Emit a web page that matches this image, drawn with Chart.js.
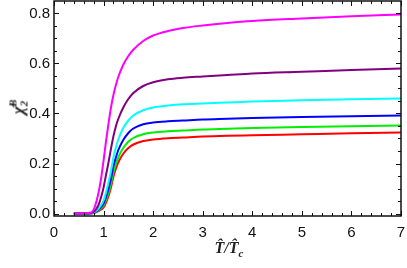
<!DOCTYPE html>
<html lang="en">
<head>
    <meta charset="UTF-8">
    <title>chi2B vs T/Tc</title>
    <script src="https://cdn.jsdelivr.net/npm/chart.js"></script>
    <style>
        body {
            margin: 0;
            background: #fff;
        }
        #wrap {
            position: relative;
            width: 407px;
            height: 268px;
        }
        .axisTitle {
            position: absolute;
            font-family: 'Liberation Serif', 'DejaVu Serif', serif;
            font-weight: bold;
            font-style: italic;
            font-size: 16px;
            color: #222;
            white-space: nowrap;
        }
        #xTitle {
            left: 229px;
            top: 249px;
            transform: translate(-50%, -50%);
        }
        #yTitle {
            left: 18px;
            top: 107px;
            font-size: 17px;
            transform: translate(-50%, -50%) rotate(-90deg);
        }
        sub, sup { font-size: 11px; }
    </style>
</head>
<body>

<div id="wrap">
    <canvas id="chi2Chart" width="407" height="268"></canvas>
    <div class="axisTitle" id="xTitle">T&#770;/T&#770;<sub>c</sub></div>
    <div class="axisTitle" id="yTitle">&chi;&#770;<sub>2</sub><sup style="margin-left:-6px">B</sup></div>
</div>

<script>
    // x values (T/Tc) shared by all curves
    const tRatio = [0.4, 0.6, 0.75, 0.82, 0.9, 0.95, 1.0, 1.05, 1.1, 1.15, 1.2, 1.25, 1.3, 1.4, 1.5, 1.6, 1.8, 2.0, 2.3, 2.6, 3, 3.5, 4, 5, 6, 7];

    // curves, top to bottom
    const magentaVals = [0, 0.001, 0.004, 0.025, 0.085, 0.14, 0.212, 0.29, 0.36, 0.425, 0.475, 0.515, 0.548, 0.596, 0.630, 0.655, 0.690, 0.712, 0.730, 0.742, 0.752, 0.762, 0.77, 0.78, 0.789, 0.796];
    const purpleVals  = [0, 0, 0.002, 0.01, 0.035, 0.065, 0.104, 0.155, 0.205, 0.26, 0.31, 0.35, 0.38, 0.425, 0.458, 0.482, 0.510, 0.525, 0.537, 0.543, 0.548, 0.554, 0.56, 0.567, 0.574, 0.58];
    const cyanVals    = [0, 0, 0.001, 0.006, 0.02, 0.034, 0.052, 0.085, 0.125, 0.17, 0.225, 0.265, 0.298, 0.343, 0.372, 0.392, 0.413, 0.424, 0.432, 0.437, 0.44, 0.444, 0.448, 0.453, 0.457, 0.46];
    const blueVals    = [0, 0, 0.001, 0.005, 0.016, 0.026, 0.04, 0.067, 0.1, 0.14, 0.19, 0.225, 0.255, 0.295, 0.322, 0.340, 0.357, 0.364, 0.369, 0.372, 0.376, 0.379, 0.382, 0.386, 0.389, 0.392];
    const greenVals   = [0, 0, 0.001, 0.004, 0.013, 0.021, 0.032, 0.054, 0.082, 0.12, 0.165, 0.198, 0.226, 0.263, 0.287, 0.302, 0.317, 0.324, 0.329, 0.332, 0.336, 0.339, 0.342, 0.346, 0.349, 0.352];
    const redVals     = [0, 0, 0, 0.003, 0.01, 0.016, 0.024, 0.044, 0.07, 0.105, 0.148, 0.18, 0.206, 0.24, 0.262, 0.276, 0.290, 0.296, 0.301, 0.304, 0.308, 0.311, 0.313, 0.317, 0.321, 0.324];

    const xTicks = [0, 1, 2, 3, 4, 5, 6, 7];
    const yTicks = [0.0, 0.2, 0.4, 0.6, 0.8];

    function toPoints(vals) {
        return vals.map((v, i) => ({ x: tRatio[i], y: v }));
    }

    function curve(label, vals, color) {
        return {
            label: label,
            data: toPoints(vals),
            borderColor: color,
            borderWidth: 2,
            pointRadius: 0,
            fill: false,
            cubicInterpolationMode: 'monotone'
        };
    }

    // frame box with inward ticks on all four sides (Mathematica look)
    const frameTicks = {
        id: 'frameTicks',
        afterDatasetsDraw(chart) {
            const { ctx, chartArea: a, scales: { x, y } } = chart;
            ctx.save();
            ctx.strokeStyle = '#111';
            ctx.lineWidth = 1;
            for (let i = 0; i <= 35; i++) {
                const px = Math.round(x.getPixelForValue(i * 0.2)) + 0.5;
                const len = i % 5 === 0 ? 5 : 3;
                ctx.beginPath();
                ctx.moveTo(px, a.bottom); ctx.lineTo(px, a.bottom - len);
                ctx.moveTo(px, a.top); ctx.lineTo(px, a.top + len);
                ctx.stroke();
            }
            for (let i = 0; i <= 16; i++) {
                const py = Math.round(y.getPixelForValue(i * 0.05)) + 0.5;
                const len = i % 4 === 0 ? 5 : 3;
                ctx.beginPath();
                ctx.moveTo(a.left, py); ctx.lineTo(a.left + len, py);
                ctx.moveTo(a.right, py); ctx.lineTo(a.right - len, py);
                ctx.stroke();
            }
            ctx.lineWidth = 1.5;
            ctx.strokeRect(a.left, a.top, a.right - a.left, a.bottom - a.top);
            ctx.restore();
        }
    };

    // keep the plot box where the reference has it
    function noPad(s) {
        s.paddingLeft = 0; s.paddingRight = 0;
        s.paddingTop = 0; s.paddingBottom = 0;
    }

    const ctx = document.getElementById('chi2Chart').getContext('2d');
    const chi2Chart = new Chart(ctx, {
        type: 'line',
        data: {
            datasets: [
                curve('magenta', magentaVals, '#ff00ff'),
                curve('purple', purpleVals, '#800080'),
                curve('cyan', cyanVals, '#00ffff'),
                curve('blue', blueVals, '#0000ff'),
                curve('green', greenVals, '#00ee00'),
                curve('red', redVals, '#ff0000')
            ]
        },
        options: {
            responsive: false,
            animation: false,
            layout: { padding: { top: 1, right: 6, left: 0, bottom: 0 } },
            plugins: {
                legend: { display: false },
                tooltip: { enabled: false }
            },
            scales: {
                x: {
                    type: 'linear',
                    min: 0,
                    max: 7,
                    afterFit: s => { s.height = 52; noPad(s); },
                    afterBuildTicks: s => { s.ticks = xTicks.map(v => ({ value: v })); },
                    grid: { display: false, drawTicks: false },
                    border: { display: false },
                    ticks: {
                        padding: 8,
                        maxRotation: 0,
                        color: '#111',
                        font: { family: 'Liberation Sans, Arial, sans-serif', size: 15 },
                        callback: v => String(v)
                    }
                },
                y: {
                    min: -0.01,
                    max: 0.85,
                    afterFit: s => { s.width = 54; noPad(s); },
                    afterBuildTicks: s => { s.ticks = yTicks.map(v => ({ value: v })); },
                    grid: { display: false, drawTicks: false },
                    border: { display: false },
                    ticks: {
                        padding: 4,
                        color: '#111',
                        font: { family: 'Liberation Sans, Arial, sans-serif', size: 15 },
                        callback: v => v.toFixed(1)
                    }
                }
            }
        },
        plugins: [frameTicks]
    });
</script>

</body>
</html>
